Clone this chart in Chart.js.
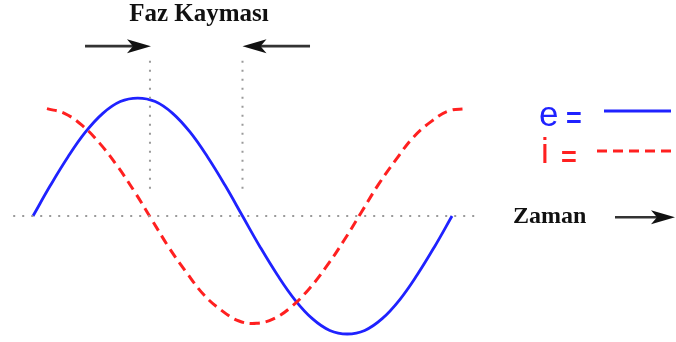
<!DOCTYPE html>
<html>
<head>
<meta charset="utf-8">
<script src="https://cdn.jsdelivr.net/npm/chart.js@4"></script>
<style>
  html, body { margin: 0; padding: 0; background: #fff; }
  canvas { display: block; }
</style>
</head>
<body>
<canvas id="faz" width="676" height="342"></canvas>
<script>
// açı (derece) ekseni
const acilarE = [0, 15, 30, 45, 60, 75, 90, 105, 120, 135, 150, 165, 180,
  195, 210, 225, 240, 255, 270, 285, 300, 315, 330, 345, 360];
// gerilim e
const degerlerE = [0, 2.6, 5.0, 7.1, 8.7, 9.7, 10, 9.7, 8.7, 7.1, 5.0, 2.6, 0,
  -2.6, -5.0, -7.1, -8.7, -9.7, -10, -9.7, -8.7, -7.1, -5.0, -2.6, 0];

const acilarI = [12, 27, 42, 57, 72, 87, 102, 117, 132, 147, 162, 177, 192,
  207, 222, 237, 252, 267, 282, 297, 312, 327, 342, 357, 372];
// akım i
const degerlerI = [9.1, 8.7, 7.7, 6.2, 4.3, 2.1, -0.3, -2.7, -4.8, -6.7, -8.0, -8.9, -9.1,
  -8.7, -7.7, -6.2, -4.3, -2.1, 0.3, 2.7, 4.8, 6.7, 8.0, 8.9, 9.1];

// sıfır çizgisi ve faz işaretleri
const sifirCizgisi = [-17, 382];
const fazIsaretleri = [100.5, 180];
const isaretAraligi = [2.3, 13.7];

const MAVI = "#1f22ff";
const KIRMIZI = "#ff2020";

function noktalar(xs, ys) {
  return xs.map((x, i) => ({ x: x, y: ys[i] }));
}

const veriSetleri = [
  {
    data: sifirCizgisi.map(x => ({ x: x, y: 0 })),
    borderColor: "#9a9a9a",
    borderWidth: 2,
    borderDash: [2, 7],
    pointRadius: 0,
    tension: 0
  }
];

fazIsaretleri.forEach(x => {
  veriSetleri.push({
    data: isaretAraligi.map(y => ({ x: x, y: y })),
    borderColor: "#9a9a9a",
    borderWidth: 2,
    borderDash: [2, 7],
    pointRadius: 0,
    tension: 0
  });
});

veriSetleri.push({
  label: "i",
  data: noktalar(acilarI, degerlerI),
  borderColor: KIRMIZI,
  borderWidth: 3,
  borderDash: [10, 6],
  pointRadius: 0,
  tension: 0.4
});

veriSetleri.push({
  label: "e",
  data: noktalar(acilarE, degerlerE),
  borderColor: MAVI,
  borderWidth: 2.8,
  pointRadius: 0,
  tension: 0.4
});

function ok(ctx, x1, y, x2) {
  const yon = Math.sign(x2 - x1);
  ctx.beginPath();
  ctx.moveTo(x1, y);
  ctx.lineTo(x2 - yon * 12, y);
  ctx.stroke();
  ctx.beginPath();
  ctx.moveTo(x2, y);
  ctx.lineTo(x2 - yon * 24, y - 7);
  ctx.lineTo(x2 - yon * 18, y);
  ctx.lineTo(x2 - yon * 24, y + 7);
  ctx.closePath();
  ctx.fill();
}

// oklar ve yazılar
const yazilar = {
  id: "yazilar",
  afterDraw(chart) {
    const ctx = chart.ctx;
    const sx = chart.scales.x, sy = chart.scales.y;
    ctx.save();

    ctx.strokeStyle = "#333";
    ctx.fillStyle = "#111";
    ctx.lineWidth = 2.6;
    const okY = sy.getPixelForValue(14.4);
    ok(ctx, sx.getPixelForValue(44.7), okY, sx.getPixelForValue(fazIsaretleri[0]) + 1);
    ok(ctx, sx.getPixelForValue(238), okY, sx.getPixelForValue(fazIsaretleri[1]));
    ok(ctx, 615, sy.getPixelForValue(-0.1), 675);

    ctx.font = "bold 25px 'Liberation Serif'";
    ctx.textAlign = "center";
    ctx.textBaseline = "alphabetic";
    ctx.fillText("Faz Kayması", 199, 21);
    ctx.textAlign = "left";
    ctx.font = "bold 24px 'Liberation Serif'";
    ctx.fillText("Zaman", 513, 223);

    ctx.font = "35px 'Liberation Sans'";
    ctx.fillStyle = MAVI;
    ctx.fillText("e", 539, 126);
    ctx.fillStyle = KIRMIZI;
    ctx.fillText("i", 541, 163);
    ctx.font = "bold 27px 'Liberation Sans'";
    ctx.fillStyle = MAVI;
    ctx.fillText("=", 566, 127);
    ctx.fillStyle = KIRMIZI;
    ctx.fillText("=", 561, 166);

    ctx.lineWidth = 2.8;
    ctx.strokeStyle = MAVI;
    ctx.beginPath();
    ctx.moveTo(604, 111);
    ctx.lineTo(671, 111);
    ctx.stroke();
    ctx.lineWidth = 3;
    ctx.strokeStyle = KIRMIZI;
    ctx.setLineDash([10, 6]);
    ctx.beginPath();
    ctx.moveTo(597, 151);
    ctx.lineTo(676, 151);
    ctx.stroke();

    ctx.restore();
  }
};

new Chart(document.getElementById("faz"), {
  type: "line",
  data: { datasets: veriSetleri },
  options: {
    responsive: false,
    animation: false,
    layout: { padding: 0 },
    plugins: {
      legend: { display: false },
      tooltip: { enabled: false }
    },
    scales: {
      x: { type: "linear", display: false, min: -28.35, max: 552.45 },
      y: { display: false, min: -10.68, max: 18.31 }
    }
  },
  plugins: [yazilar]
});
</script>
</body>
</html>
